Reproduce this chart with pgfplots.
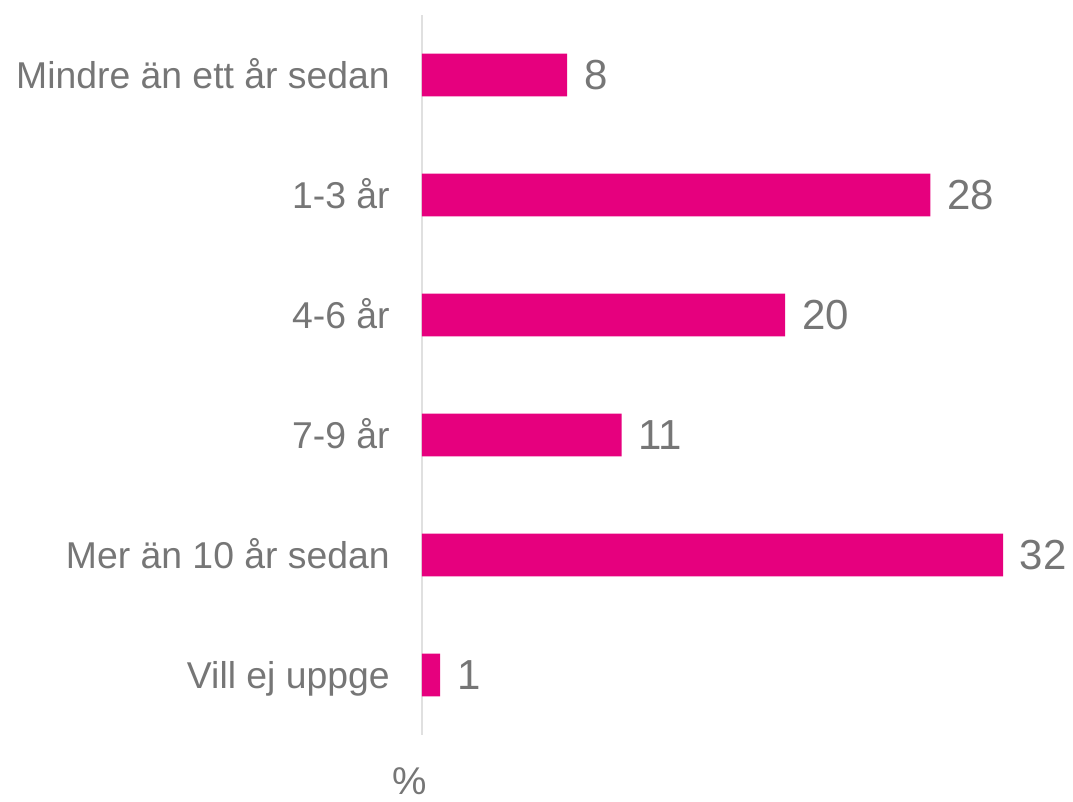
\documentclass[border=0pt]{standalone}
\usepackage{fontspec}
\setmainfont{Liberation Sans}
\usepackage{pgfplots}
\pgfplotsset{compat=1.18}
\definecolor{barpink}{HTML}{E6007E}
\definecolor{txtgray}{HTML}{767676}
\definecolor{axgray}{HTML}{E0E0E0}
\begin{document}
\begin{tikzpicture}
\begin{axis}[
  scale only axis,
  width=435.75pt, height=540pt,
  xbar, bar width=32pt,
  xmin=0, xmax=32,
  ymin=-0.5, ymax=5.5,
  y dir=reverse,
  axis x line=none,
  axis y line*=left,
  y axis line style={draw=axgray, line width=0.9pt, -},
  ytick={0,1,2,3,4,5},
  yticklabels={Mindre än ett år sedan,1-3 år,4-6 år,7-9 år,Mer än 10 år sedan,Vill ej uppge},
  major tick length=0pt,
  yticklabel style={font=\fontsize{28}{32}\selectfont, text=txtgray, inner sep=0pt, xshift=-24pt, anchor=base east, yshift=-9.9pt},
  /pgf/number format/assume math mode=true,
  nodes near coords,
  nodes near coords style={font=\fontsize{31.5}{36}\selectfont, text=txtgray, anchor=west, inner sep=0pt, xshift=12.5pt},
  clip=false,
]
\addplot[fill=barpink, draw=none] coordinates {(8,0) (28,1) (20,2) (11,3) (32,4) (1,5)};
\node[anchor=center, text=txtgray, inner sep=0pt, font=\fontsize{29}{33}\selectfont] at ([shift={(-9pt,-34.5pt)}]axis cs:0,5.5) {\%};
\coordinate (bl) at (axis cs:0,5.5);
\coordinate (tr) at (axis cs:32,-0.5);
\end{axis}
\pgfresetboundingbox
\path[use as bounding box] ([shift={(-316.5pt,-50.25pt)}]bl) rectangle ([shift={(52.5pt,11.25pt)}]tr);
\end{tikzpicture}
\end{document}
